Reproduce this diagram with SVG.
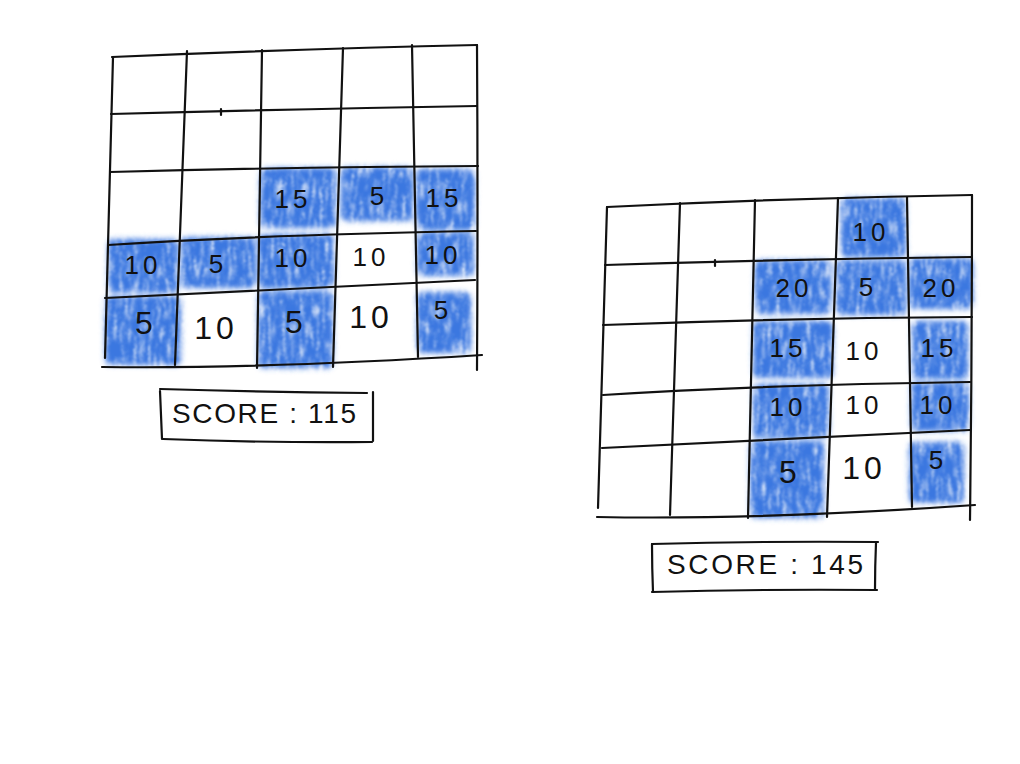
<svg xmlns="http://www.w3.org/2000/svg" width="1020" height="764" viewBox="0 0 1020 764">
<style>
.ln{fill:none;stroke:#111;stroke-width:2.2;stroke-linecap:round;stroke-linejoin:round}
.bl{fill:#3a77e0;filter:url(#crayon)}
.n{font-family:"Liberation Sans",Arial,sans-serif;font-size:26px;fill:#111;text-anchor:middle;dominant-baseline:central;letter-spacing:4px}
.big{font-size:32px}
.sc{font-family:"Liberation Sans",Arial,sans-serif;font-size:28px;fill:#111;dominant-baseline:central}
</style>
<defs>
<filter id="crayon" x="-15%" y="-15%" width="130%" height="130%">
<feTurbulence type="fractalNoise" baseFrequency="0.35 0.05" numOctaves="3" seed="5" result="n"/>
<feColorMatrix in="n" type="matrix" values="0 0 0 0 0  0 0 0 0 0  0 0 0 0 0  2.4 0 0 0 -0.25" result="na"/>
<feGaussianBlur in="SourceGraphic" stdDeviation="2.4" result="b"/>
<feComposite in="b" in2="na" operator="in" result="t"/>
<feTurbulence type="fractalNoise" baseFrequency="0.9" numOctaves="2" seed="3" result="n2"/>
<feDisplacementMap in="t" in2="n2" scale="6" xChannelSelector="R" yChannelSelector="G" result="d"/>
<feGaussianBlur in="d" stdDeviation="0.8"/>
</filter>
</defs>
<rect width="1020" height="764" fill="#fff"/>

<g id="grid-left">
<g id="left-fills">
<rect class="bl" x="260" y="168" width="76" height="60" rx="6"/>
<rect class="bl" x="341" y="167" width="72" height="54" rx="6"/>
<rect class="bl" x="416" y="169" width="59" height="61" rx="6"/>
<rect class="bl" x="108" y="239" width="70" height="54" rx="6"/>
<rect class="bl" x="181" y="237" width="75" height="51" rx="6"/>
<rect class="bl" x="258" y="234" width="76" height="54" rx="6"/>
<rect class="bl" x="417" y="232" width="57" height="44" rx="6"/>
<rect class="bl" x="105" y="296" width="76" height="69" rx="6"/>
<rect class="bl" x="258" y="291" width="75" height="77" rx="6"/>
<rect class="bl" x="417" y="292" width="54" height="61" rx="6"/>
</g>
<g id="left-lines">
<path class="ln" d="M112,57 Q300,49 477,45"/>
<path class="ln" d="M111,114 Q300,109 477,106"/>
<path class="ln" d="M110,172 Q300,167 478,166"/>
<path class="ln" d="M108,245 Q260,235 476,231"/>
<path class="ln" d="M105,298 Q260,291 475,280"/>
<path class="ln" d="M102,367 Q260,369 482,355"/>
<path class="ln" d="M113,57 Q109,210 105,358"/>
<path class="ln" d="M187,51 Q181,210 175,365"/>
<path class="ln" d="M262,50 Q259,210 257,368"/>
<path class="ln" d="M343,48 Q338,210 333,367"/>
<path class="ln" d="M412,45 Q415,200 418,357"/>
<path class="ln" d="M477,45 Q478,210 477,370"/>
<path class="ln" d="M221,109 L221,115"/>
</g>
<g id="left-values">
<text class="n" x="293" y="199">15</text>
<text class="n" x="379" y="196">5</text>
<text class="n" x="444" y="198">15</text>
<text class="n" x="143" y="265">10</text>
<text class="n" x="218" y="264">5</text>
<text class="n" x="293" y="258">10</text>
<text class="n" x="371" y="257">10</text>
<text class="n" x="443" y="255">10</text>
<text class="n big" x="146" y="323">5</text>
<text class="n big" x="216" y="328">10</text>
<text class="n big" x="296" y="322">5</text>
<text class="n big" x="371" y="317">10</text>
<text class="n" x="443" y="310">5</text>
</g>
</g>

<g id="score-left">
<path class="ln" d="M160,389 Q260,392 367,393"/>
<path class="ln" d="M163,439 Q270,443 372,442"/>
<path class="ln" d="M160,391 Q161,415 162,439"/>
<path class="ln" d="M373,392 Q373,416 373,441"/>
<text class="sc" x="172" y="413" textLength="184" lengthAdjust="spacing">SCORE : 115</text>
</g>

<g id="grid-right">
<g id="right-fills">
<rect class="bl" x="841" y="198" width="65" height="59" rx="6"/>
<rect class="bl" x="755" y="260" width="76" height="54" rx="6"/>
<rect class="bl" x="836" y="260" width="70" height="55" rx="6"/>
<rect class="bl" x="909" y="258" width="64" height="51" rx="6"/>
<rect class="bl" x="753" y="321" width="80" height="57" rx="6"/>
<rect class="bl" x="912" y="321" width="56" height="58" rx="6"/>
<rect class="bl" x="753" y="384" width="76" height="54" rx="6"/>
<rect class="bl" x="911" y="382" width="58" height="49" rx="6"/>
<rect class="bl" x="750" y="441" width="74" height="77" rx="6"/>
<rect class="bl" x="909" y="442" width="55" height="61" rx="6"/>
</g>
<g id="right-lines">
<path class="ln" d="M607,207 Q790,198 972,195"/>
<path class="ln" d="M605,265 Q790,259 972,257"/>
<path class="ln" d="M603,325 Q790,318 972,317"/>
<path class="ln" d="M603,395 Q760,385 970,382"/>
<path class="ln" d="M602,448 Q760,440 970,430"/>
<path class="ln" d="M597,517 Q760,520 975,505"/>
<path class="ln" d="M607,207 Q602,360 598,508"/>
<path class="ln" d="M680,203 Q675,360 670,515"/>
<path class="ln" d="M755,200 Q751,360 748,518"/>
<path class="ln" d="M838,198 Q832,360 827,517"/>
<path class="ln" d="M907,197 Q910,350 912,507"/>
<path class="ln" d="M972,195 Q972,360 970,520"/>
<path class="ln" d="M715,260 L715,266"/>
</g>
<g id="right-values">
<text class="n" x="871" y="232">10</text>
<text class="n" x="794" y="288">20</text>
<text class="n" x="868" y="287">5</text>
<text class="n" x="941" y="288">20</text>
<text class="n" x="788" y="348">15</text>
<text class="n" x="864" y="351">10</text>
<text class="n" x="939" y="348">15</text>
<text class="n" x="788" y="407">10</text>
<text class="n" x="864" y="405">10</text>
<text class="n" x="938" y="405">10</text>
<text class="n big" x="790" y="472">5</text>
<text class="n big" x="864" y="468">10</text>
<text class="n" x="938" y="460">5</text>
</g>
</g>

<g id="score-right">
<path class="ln" d="M652,544 Q760,541 878,542"/>
<path class="ln" d="M652,592 Q760,589 877,590"/>
<path class="ln" d="M652,544 Q652,568 653,592"/>
<path class="ln" d="M876,543 Q875,566 875,589"/>
<text class="sc" x="667" y="564" textLength="196" lengthAdjust="spacing">SCORE : 145</text>
</g>

<g id="connectors"/>
</svg>
